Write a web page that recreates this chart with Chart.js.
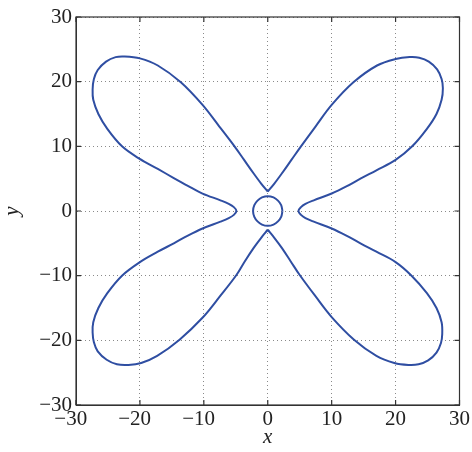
<!DOCTYPE html>
<html>
<head>
<meta charset="utf-8">
<script src="https://cdn.jsdelivr.net/npm/chart.js@4.4.0/dist/chart.umd.min.js"></script>
<style>
  html, body { margin: 0; padding: 0; background: #fff; }
</style>
</head>
<body>
<canvas id="petalChart" width="472" height="452"></canvas>
<script>
// points, [x, y]
var upperRight = [[0,3.0],[1.0,4.2],[2.2,5.8],[3.7,7.9],[5.2,10.0],[7.5,13.1],[10.0,16.4],[13.4,19.9],[17.1,22.5],[20.0,23.5],[22.2,23.8],[23.7,23.7],[25.2,23.1],[26.5,21.9],[27.2,20.4],[27.4,19.0],[27.2,17.2],[26.4,15.0],[24.9,12.7],[22.6,10.0],[20.0,7.9],[17.0,6.3],[14.5,5.0],[12.3,3.8],[10.0,2.7],[7.2,1.65],[5.9,1.1],[5.2,0.6],[4.8,0]];
var lowerRight = [[4.8,0],[5.2,-0.6],[5.9,-1.1],[7.2,-1.65],[10.0,-2.7],[12.3,-3.8],[14.5,-5.0],[17.0,-6.3],[20.0,-7.9],[22.5,-10.0],[24.9,-12.7],[26.4,-15.0],[27.2,-17.2],[27.3,-19.0],[27.1,-20.4],[26.4,-21.9],[25.1,-23.1],[23.6,-23.7],[22.0,-23.8],[19.8,-23.5],[17.0,-22.4],[13.5,-19.9],[10.0,-16.4],[7.4,-13.1],[5.0,-9.9],[3.6,-7.8],[2.2,-5.7],[1.0,-4.1],[0,-2.9]];
var lowerLeft = [[0,-2.9],[-1.0,-4.1],[-2.2,-5.7],[-3.6,-7.8],[-4.9,-9.9],[-7.4,-13.1],[-10.1,-16.4],[-13.8,-19.9],[-17.3,-22.4],[-19.8,-23.5],[-21.8,-23.8],[-23.6,-23.7],[-25.2,-23.0],[-26.6,-21.7],[-27.2,-20.3],[-27.4,-18.8],[-27.3,-17.2],[-26.5,-15.0],[-25.1,-12.7],[-22.8,-10.0],[-20.0,-7.9],[-17.2,-6.3],[-14.7,-5.0],[-12.5,-3.8],[-10.2,-2.7],[-7.4,-1.65],[-6.1,-1.1],[-5.3,-0.6],[-4.9,0]];
var upperLeft = [[-4.9,0],[-5.3,0.6],[-6.1,1.1],[-7.4,1.65],[-10.2,2.7],[-12.5,3.9],[-14.7,5.1],[-17.2,6.5],[-20.1,8.1],[-22.8,10.0],[-25.1,12.7],[-26.5,15.0],[-27.3,17.2],[-27.4,18.8],[-27.2,20.4],[-26.6,21.8],[-25.3,23.1],[-23.8,23.8],[-22.4,23.9],[-20.0,23.6],[-17.2,22.5],[-13.6,19.9],[-10.2,16.4],[-7.6,13.1],[-5.2,10.0],[-3.7,7.9],[-2.2,5.8],[-1.0,4.2],[0,3.0]];
var ring = [[2.3,0],[2.1,0.9],[1.6,1.6],[0.9,2.1],[0,2.3],[-0.9,2.1],[-1.6,1.6],[-2.1,0.9],[-2.3,0],[-2.1,-0.9],[-1.6,-1.6],[-0.9,-2.1],[0,-2.3],[0.9,-2.1],[1.6,-1.6],[2.1,-0.9],[2.3,0]];
var tickValues = [-30, -20, -10, 0, 10, 20, 30];

var lineColor = '#2f4ea2';
var serif = '"Liberation Serif", "DejaVu Serif", serif';

function toPoints(list) {
  return list.map(function (p) { return {x: p[0], y: p[1]}; });
}

function curve(list) {
  return {
    data: toPoints(list),
    showLine: true,
    borderColor: lineColor,
    borderWidth: 2,
    pointRadius: 0,
    tension: 0.35,
    fill: false
  };
}

var rightLobe = upperRight.concat(lowerRight.slice(1));
var leftLobe = lowerLeft.concat(upperLeft.slice(1));

function minusLabel(v) {
  return v < 0 ? '\u2212' + Math.abs(v) : String(v);
}

// box frame with small inward ticks, matlab style
var framePlugin = {
  id: 'frame',
  afterDraw: function (chart) {
    var a = chart.chartArea, ctx = chart.ctx;
    var xs = chart.scales.x, ys = chart.scales.y;
    ctx.save();
    ctx.strokeStyle = '#333';
    ctx.lineWidth = 1.2;
    ctx.strokeRect(a.left, a.top, a.right - a.left, a.bottom - a.top);
    ctx.beginPath();
    tickValues.forEach(function (v) {
      var px = xs.getPixelForValue(v), py = ys.getPixelForValue(v);
      ctx.moveTo(px, a.bottom); ctx.lineTo(px, a.bottom - 5);
      ctx.moveTo(px, a.top); ctx.lineTo(px, a.top + 5);
      ctx.moveTo(a.left, py); ctx.lineTo(a.left + 5, py);
      ctx.moveTo(a.right, py); ctx.lineTo(a.right - 5, py);
    });
    ctx.stroke();
    ctx.restore();
  }
};

var ctx = document.getElementById('petalChart').getContext('2d');
var petalChart = new Chart(ctx, {
  type: 'scatter',
  data: {
    datasets: [curve(rightLobe), curve(leftLobe), curve(ring)]
  },
  options: {
    responsive: false,
    animation: false,
    devicePixelRatio: 1,
    layout: { padding: { top: 17, right: 9, left: 0, bottom: 0 } },
    plugins: {
      legend: { display: false },
      tooltip: { enabled: false }
    },
    scales: {
      x: {
        type: 'linear',
        min: -30, max: 30,
        afterFit: function (scale) { scale.height = 47; },
        afterBuildTicks: function (scale) {
          scale.ticks = tickValues.map(function (v) { return {value: v}; });
        },
        ticks: {
          font: { family: serif, size: 21 },
          color: '#222',
          padding: 2,
          maxRotation: 0,
          autoSkip: false,
          // keep digits centred under the tick, minus hangs to the left
          callback: function (v) { return v < 0 ? minusLabel(v) + '\u2002' : minusLabel(v); }
        },
        grid: { color: '#8a8a8a', lineWidth: 1, drawTicks: false },
        border: { display: true, color: '#333', dash: [1, 3] },
        title: {
          display: true, text: 'x', color: '#222',
          font: { family: serif, size: 21, style: 'italic' },
          padding: { top: 0, bottom: 2 }
        }
      },
      y: {
        type: 'linear',
        min: -30, max: 30,
        afterFit: function (scale) { scale.width = 76; },
        afterBuildTicks: function (scale) {
          scale.ticks = tickValues.map(function (v) { return {value: v}; });
        },
        ticks: {
          font: { family: serif, size: 21 },
          color: '#222',
          padding: 4,
          autoSkip: false,
          callback: minusLabel
        },
        grid: { color: '#8a8a8a', lineWidth: 1, drawTicks: false },
        border: { display: true, color: '#333', dash: [1, 3] },
        title: {
          display: true, text: 'y', color: '#222',
          font: { family: serif, size: 21, style: 'italic' },
          padding: { top: 0, bottom: 4 }
        }
      }
    }
  },
  plugins: [framePlugin]
});
</script>
</body>
</html>
